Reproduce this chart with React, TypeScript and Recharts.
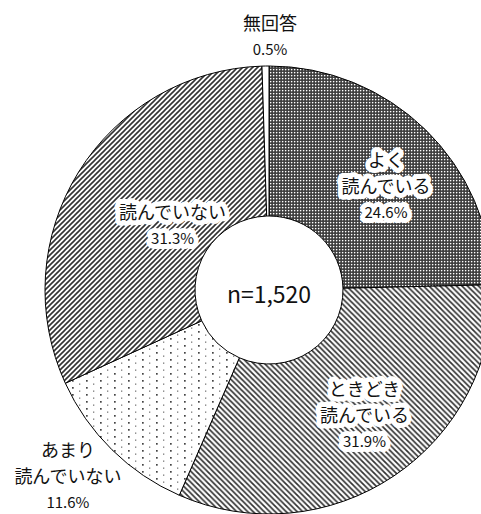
import { PieChart, Pie, Cell } from 'recharts'

// 回答の区分（上から時計回り）
const categories = ['よく\n読んでいる', 'ときどき\n読んでいる', 'あまり\n読んでいない', '読んでいない', '無回答']
const shares = [24.6, 31.9, 11.6, 31.3, 0.5]
const fills = ['url(#pDense)', 'url(#pBack)', 'url(#pDots)', 'url(#pFwd)', '#fff']
const totalLabel = 'n=1,520'

// label placement per slice: radius from centre + nudge
const labelPos = [
  { r: 156, dx: 8, dy: 7 },
  { r: 157, dx: 8, dy: -6 },
  { r: 274, dx: -9, dy: -10 },
  { r: 117, dx: 3, dy: -4 },
  { r: 255, dx: 5, dy: 0 },
]

const RADIAN = Math.PI / 180
const FONT = '"Noto Sans CJK JP", "Noto Sans", sans-serif'

const data = categories.map((name, i) => ({ name, value: shares[i] }))

function SliceLabel(props: any) {
  const { cx, cy, midAngle, index } = props
  const p = labelPos[index]
  const x = cx + p.r * Math.cos(-midAngle * RADIAN) + p.dx
  const y = cy + p.r * Math.sin(-midAngle * RADIAN) + p.dy
  const lines = categories[index].split('\n')
  const rows = [...lines, `${shares[index].toFixed(1)}%`]
  const step = 26.5
  const top = y - ((rows.length - 1) * step) / 2
  return (
    <g>
      {rows.map((t, k) => {
        const isPct = k === rows.length - 1
        return (
          <text
            key={k}
            x={x}
            y={top + k * step}
            textAnchor="middle"
            dominantBaseline="central"
            fontFamily={FONT}
            fontSize={isPct ? 15 : 18}
            fill="#111"
            stroke={index === 2 || index === 4 ? 'none' : '#fff'}
            strokeWidth={10}
            strokeLinejoin="round"
            paintOrder="stroke"
          >
            {t}
          </text>
        )
      })}
    </g>
  )
}

export default function App() {
  return (
    <div style={{ width: 481, height: 514, background: '#fff', overflow: 'hidden' }}>
      <style>{'body{margin:0}'}</style>
      <PieChart width={481} height={514} margin={{ top: 0, right: 0, bottom: 0, left: 0 }}>
        <defs>
          <pattern id="pDense" width="3" height="3" patternUnits="userSpaceOnUse">
            <rect width="3" height="3" fill="#4a4a4a" />
            <rect x="0" y="0" width="1.3" height="1.3" fill="#fff" />
            <rect x="1.5" y="1.5" width="1" height="1" fill="#1a1a1a" />
          </pattern>
          <pattern id="pBack" width="5.5" height="5.5" patternUnits="userSpaceOnUse">
            <rect width="5.5" height="5.5" fill="#fff" />
            <path d="M-1,-1 L6.5,6.5 M-1,4.5 L1,6.5 M4.5,-1 L6.5,1" stroke="#333" strokeWidth="1.7" />
          </pattern>
          <pattern id="pFwd" width="5" height="5" patternUnits="userSpaceOnUse">
            <rect width="5" height="5" fill="#fff" />
            <path d="M-1,6 L6,-1 M-1,1 L1,-1 M4,6 L6,4" stroke="#333" strokeWidth="1.6" />
          </pattern>
          <pattern id="pDots" width="14" height="14" patternUnits="userSpaceOnUse">
            <rect width="14" height="14" fill="#fff" />
            <rect x="2" y="2" width="1.7" height="1.7" fill="#444" />
            <rect x="2" y="9" width="1.7" height="1.7" fill="#444" />
            <rect x="9" y="5.5" width="1.3" height="1.3" fill="#777" />
            <rect x="9" y="12.5" width="1.3" height="1.3" fill="#777" />
          </pattern>
        </defs>
        <Pie
          data={data}
          dataKey="value"
          cx={269}
          cy={290}
          innerRadius={74}
          outerRadius={224}
          startAngle={90}
          endAngle={-270}
          stroke="#000"
          strokeWidth={1}
          label={SliceLabel}
          labelLine={false}
          isAnimationActive={false}
        >
          {data.map((d, i) => (
            <Cell key={d.name} fill={fills[i]} />
          ))}
        </Pie>
        <text x={269} y={293} textAnchor="middle" dominantBaseline="central" fontFamily={FONT} fontSize={23} fill="#111">
          {totalLabel}
        </text>
      </PieChart>
    </div>
  )
}
